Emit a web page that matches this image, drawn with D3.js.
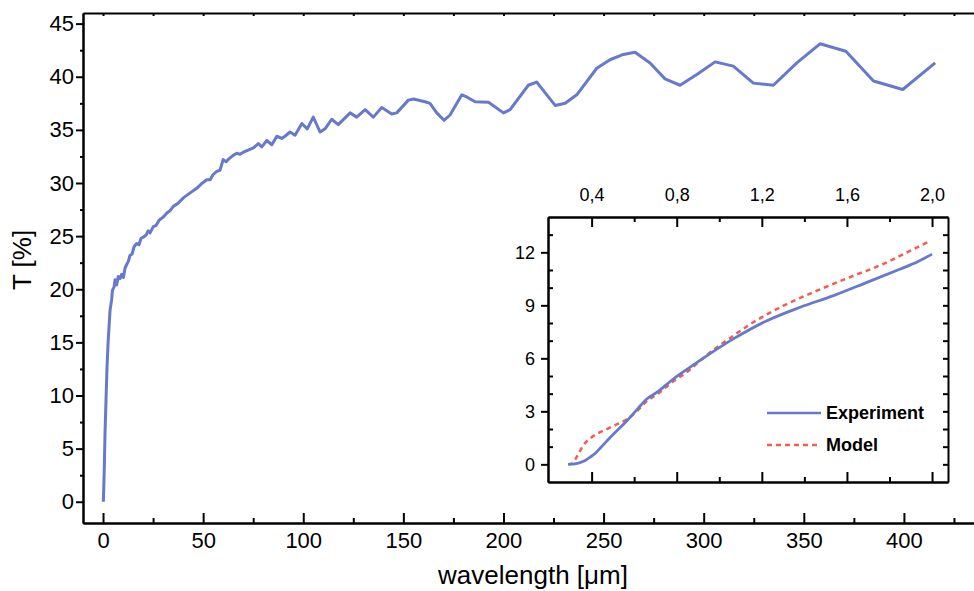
<!DOCTYPE html>
<meta charset="utf-8">
<style>
  body { margin: 0; background: #fff; }
  svg { font-family: "Liberation Sans", Arial, sans-serif; }
  .axis path, .axis line { fill: none; stroke: #000; stroke-width: 2; }
  .axis text { fill: #000; }
</style>
<body>
<script src="https://d3js.org/d3.v7.min.js"></script>
<script>

// main spectrum: wavelength [um] vs T [%]
var wavelength = [0.15, 0.4, 0.65, 1.0, 1.5, 2.0, 2.6, 3.5, 4.3, 4.7, 5.5, 6.0, 6.8, 7.6, 8.5, 9.3, 10.2, 11, 12, 12.6,
  13.5, 14.5, 15.5, 16.8, 18, 19, 20.1, 21.5, 22.5, 23.5, 25.1, 26.5, 28, 30.1, 32, 33.5, 35.1, 37.5, 40.1, 43,
  46.8, 49, 51.8, 53.5, 55, 56.8, 58.4, 60, 61.5, 63, 65, 66.8, 68.4, 70.1, 72.5, 75.1, 77.6, 79.3, 81.8, 84.3,
  86.8, 89.3, 90.9, 93.4, 95.9, 99.3, 102, 105, 108.4, 110.9, 114.2, 117.5, 123.4, 126.7, 130.9, 135, 139.2, 144.2, 146.7, 152.5,
  155, 160.8, 163.3, 166.7, 170.3, 173.3, 179.2, 181.7, 185.8, 192.5, 200, 203.3, 212.4, 216.6, 225.8, 230.8, 236.6, 246.6, 253.2, 259.9,
  265.7, 273.2, 280.7, 288.2, 297.3, 305.7, 314.8, 324.8, 334.8, 346.5, 358.1, 371, 384.8, 399.4, 415.6];
var transmission = [0, 1.5, 3.3, 6.5, 9.6, 12.7, 15.2, 18.0, 19.0, 19.9, 20.2, 20.9, 20.4, 21.2, 21.0, 21.4, 21.1, 22.0, 22.4, 22.6,
  23.2, 23.3, 24.0, 24.3, 24.2, 24.8, 24.9, 25.1, 25.5, 25.3, 25.9, 26.0, 26.5, 26.8, 27.2, 27.4, 27.8, 28.1, 28.6, 29.0,
  29.5, 29.9, 30.3, 30.3, 30.8, 31.1, 31.2, 32.2, 32.0, 32.3, 32.6, 32.8, 32.7, 32.9, 33.1, 33.3, 33.7, 33.4, 34.0, 33.6,
  34.4, 34.2, 34.4, 34.8, 34.5, 35.6, 35.1, 36.2, 34.8, 35.1, 36.0, 35.5, 36.6, 36.2, 36.9, 36.2, 37.1, 36.5, 36.6, 37.8,
  37.9, 37.65, 37.5, 36.6, 35.9, 36.4, 38.3, 38.1, 37.65, 37.6, 36.6, 36.9, 39.2, 39.5, 37.3, 37.5, 38.3, 40.8, 41.6, 42.1,
  42.3, 41.3, 39.8, 39.2, 40.3, 41.4, 41.0, 39.4, 39.2, 41.3, 43.1, 42.4, 39.6, 38.8, 41.3];

// inset
var expX = [0.29, 0.32, 0.345, 0.37, 0.392, 0.42, 0.439, 0.502, 0.565, 0.612, 0.659, 0.706, 0.784, 0.863, 0.941, 1.066, 1.224, 1.38, 1.537, 1.694, 1.851, 1.93, 2.0];
var expY = [0, 0.03, 0.1, 0.22, 0.4, 0.66, 0.9, 1.7, 2.45, 3.08, 3.7, 4.07, 4.83, 5.5, 6.14, 7.1, 8.13, 8.89, 9.55, 10.3, 11.06, 11.45, 11.9];
var modelX = [0.29, 0.31, 0.329, 0.36, 0.408, 0.47, 0.518, 0.565, 0.612, 0.659, 0.706, 0.784, 0.863, 0.91, 1.066, 1.16, 1.302, 1.459, 1.615, 1.772, 1.898, 1.984];
var modelY = [0, 0.05, 0.4, 1.06, 1.6, 1.98, 2.26, 2.55, 3.0, 3.57, 3.95, 4.7, 5.36, 5.87, 7.28, 8.04, 8.98, 9.83, 10.6, 11.35, 12.09, 12.6];

var yMajor = [0, 5, 10, 15, 20, 25, 30, 35, 40, 45];
var yMinor = [2.5, 7.5, 12.5, 17.5, 22.5, 27.5, 32.5, 37.5, 42.5];
var xMajor = [0, 50, 100, 150, 200, 250, 300, 350, 400];
var xMinor = [25, 75, 125, 175, 225, 275, 325, 375, 425];
var insetXMajor = [0.4, 0.8, 1.2, 1.6, 2.0];
var insetXMinor = [0.6, 1.0, 1.4, 1.8];
var insetYMajor = [0, 3, 6, 9, 12];
var insetYMinor = [1, 2, 4, 5, 7, 8, 10, 11, 13];

var blue = "#6679cc", red = "#ef5f4f";

var svg = d3.select("body").append("svg")
  .attr("width", 974)
  .attr("height", 591);

var x = d3.scaleLinear().domain([-10, 435]).range([83, 974]);
var y = d3.scaleLinear().domain([-2, 46]).range([523, 13]);

// top frame
svg.append("g").attr("class", "axis")
  .attr("transform", "translate(0,13)")
  .call(d3.axisTop(x).tickValues(xMajor.concat(xMinor)).tickSize(-3).tickSizeOuter(0).tickFormat(""));

svg.append("g").attr("class", "axis")
  .attr("transform", "translate(0,523)")
  .call(d3.axisBottom(x).tickValues(xMinor).tickSize(-5).tickSizeOuter(0).tickFormat(""));
svg.append("g").attr("class", "axis")
  .attr("transform", "translate(0,523)")
  .call(d3.axisBottom(x).tickValues(xMajor).tickSize(-10).tickSizeOuter(0).tickPadding(9))
  .selectAll("text").style("font-size", "22px");

svg.append("g").attr("class", "axis")
  .attr("transform", "translate(83,0)")
  .call(d3.axisLeft(y).tickValues(yMinor).tickSize(3).tickSizeOuter(0).tickFormat(""));
svg.append("g").attr("class", "axis")
  .attr("transform", "translate(83,0)")
  .call(d3.axisLeft(y).tickValues(yMajor).tickSize(7).tickSizeOuter(0).tickPadding(2))
  .selectAll("text").style("font-size", "22px");

svg.append("text")
  .attr("transform", "translate(31,260) rotate(-90)")
  .attr("text-anchor", "middle")
  .style("font-size", "26px")
  .text("T [%]");

svg.append("text")
  .attr("x", 533)
  .attr("y", 584)
  .attr("text-anchor", "middle")
  .style("font-size", "26px")
  .text("wavelength [\u03bcm]");

var mainData = wavelength.map(function(d, i) { return [d, transmission[i]]; });
svg.append("path")
  .datum(mainData)
  .attr("fill", "none")
  .attr("stroke", blue)
  .attr("stroke-width", 3)
  .attr("stroke-linejoin", "round")
  .attr("d", d3.line().x(function(d) { return x(d[0]); }).y(function(d) { return y(d[1]); }));

// ---- inset ----
var ix = d3.scaleLinear().domain([0.195, 2.075]).range([548, 948]);
var iy = d3.scaleLinear().domain([-1, 14]).range([482, 217]);

svg.append("rect")
  .attr("x", 548).attr("y", 217)
  .attr("width", 400).attr("height", 265)
  .attr("fill", "#fff");

svg.append("g").attr("class", "axis")
  .attr("transform", "translate(0,217)")
  .call(d3.axisTop(ix).tickValues(insetXMinor).tickSize(-5).tickSizeOuter(0).tickFormat(""));
svg.append("g").attr("class", "axis")
  .attr("transform", "translate(0,217)")
  .call(d3.axisTop(ix).tickValues(insetXMajor).tickSize(-10).tickSizeOuter(0).tickPadding(16)
    .tickFormat(function(d) { return d3.format(".1f")(d).replace(".", ","); }))
  .selectAll("text").style("font-size", "18px");

svg.append("g").attr("class", "axis")
  .attr("transform", "translate(0,482)")
  .call(d3.axisBottom(ix).tickValues(insetXMinor).tickSize(-5).tickSizeOuter(0).tickFormat(""));
svg.append("g").attr("class", "axis")
  .attr("transform", "translate(0,482)")
  .call(d3.axisBottom(ix).tickValues(insetXMajor).tickSize(-10).tickSizeOuter(0).tickFormat(""));

svg.append("g").attr("class", "axis")
  .attr("transform", "translate(548,0)")
  .call(d3.axisLeft(iy).tickValues(insetYMinor).tickSize(-5).tickSizeOuter(0).tickFormat(""));
svg.append("g").attr("class", "axis")
  .attr("transform", "translate(548,0)")
  .call(d3.axisLeft(iy).tickValues(insetYMajor).tickSize(7).tickSizeOuter(0).tickPadding(6))
  .selectAll("text").style("font-size", "18px");

svg.append("g").attr("class", "axis")
  .attr("transform", "translate(948,0)")
  .call(d3.axisRight(iy).tickValues(insetYMajor.concat(insetYMinor))
    .tickSize(-5).tickSizeOuter(0).tickFormat(""));

var line = d3.line()
  .curve(d3.curveMonotoneX)
  .x(function(d) { return ix(d[0]); })
  .y(function(d) { return iy(d[1]); });

svg.append("path")
  .datum(modelX.map(function(d, i) { return [d, modelY[i]]; }))
  .attr("fill", "none")
  .attr("stroke", red)
  .attr("stroke-width", 2.5)
  .attr("stroke-dasharray", "5,4")
  .attr("d", line);

svg.append("path")
  .datum(expX.map(function(d, i) { return [d, expY[i]]; }))
  .attr("fill", "none")
  .attr("stroke", blue)
  .attr("stroke-width", 2.8)
  .attr("d", line);

// legend
var legend = [
  {name: "Experiment", color: blue, dash: null, y: 413},
  {name: "Model", color: red, dash: "5,4", y: 445}
];
legend.forEach(function(l) {
  svg.append("line")
    .attr("x1", 767).attr("x2", 821)
    .attr("y1", l.y).attr("y2", l.y)
    .attr("stroke", l.color)
    .attr("stroke-width", 2.5)
    .attr("stroke-dasharray", l.dash);
  svg.append("text")
    .attr("x", 826).attr("y", l.y)
    .attr("dy", "0.35em")
    .style("font-size", "18px")
    .style("font-weight", "bold")
    .text(l.name);
});

</script>
